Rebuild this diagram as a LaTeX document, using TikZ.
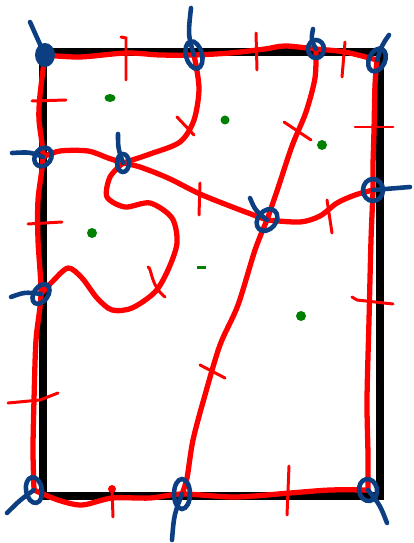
\documentclass[tikz,border=0pt]{standalone}
\usepackage{tikz}
\definecolor{KnotBlue}{RGB}{12,62,130}
\definecolor{FaceGreen}{RGB}{0,128,0}
\definecolor{EdgeRed}{RGB}{255,0,0}
\tikzset{
  border/.style={draw=black, line width=4pt},
  edge/.style={draw=EdgeRed, line width=3pt, line cap=round, line join=round},
  tickmark/.style={draw=EdgeRed, line width=1.7pt, line cap=round},
  knot/.style={draw=KnotBlue, line width=2.6pt, line cap=round},
  face/.style={fill=FaceGreen}
}
\begin{document}
\begin{tikzpicture}[x=0.02cm, y=-0.02cm]
  \useasboundingbox (0,0) rectangle (413,543);
  \draw[border] (43,52) rectangle (380,496);
  % vertices
  \coordinate (v1) at (45,55);
  \coordinate (v2) at (194,55);
  \coordinate (v3) at (316,49);
  \coordinate (v4) at (377,60);
  \coordinate (v5) at (43,157);
  \coordinate (v6) at (123,163);
  \coordinate (v7) at (373,190);
  \coordinate (v8) at (267,220);
  \coordinate (v9) at (41,294);
  \coordinate (v10) at (34,490);
  \coordinate (v11) at (182,494);
  \coordinate (v12) at (368,490);
  % outer edges
  \draw[edge] plot[smooth] coordinates {(v1) (80,57) (126,53) (160,55) (v2) (230,53) (265,49) (285,46) (v3) (345,52) (v4)};
  \draw[edge] plot[smooth] coordinates {(v4) (375,85) (374,130) (373,165) (v7) (371,240) (369,320) (367,400) (368,455) (v12)};
  \draw[edge] plot[smooth] coordinates {(v12) (330,490) (290,493) (235,497) (v11) (150,498) (112,498) (82,505) (58,500) (v10)};
  \draw[edge] plot[smooth] coordinates {(v10) (33,450) (34,400) (36,340) (v9) (38,240) (38,200) (v5) (39,120) (40,95) (v1)};
  % inner edges
  \draw[edge] plot[smooth] coordinates {(v5) (60,151) (88,151) (108,158) (v6)};
  \draw[edge] plot[smooth] coordinates {(v6) (150,154) (180,142) (194,120) (199,88) (v2)};
  \draw[edge] plot[smooth] coordinates {(v6) (140,167) (168,178) (200,194) (235,208) (v8)};
  \draw[edge] plot[smooth] coordinates {(v6) (110,177) (107,197) (125,207) (150,203) (172,218) (177,243) (168,270) (155,292) (132,308) (112,310) (97,298) (82,278) (68,268) (52,282) (v9)};
  \draw[edge] plot[smooth] coordinates {(v8) (278,188) (292,146) (306,112) (315,78) (v3)};
  \draw[edge] plot[smooth] coordinates {(v8) (255,250) (238,305) (220,345) (205,395) (193,440) (187,478) (v11)};
  \draw[edge] plot[smooth] coordinates {(v8) (300,222) (320,216) (337,203) (355,195) (v7)};
  % ticks
  \draw[tickmark] (121,37) -- (126,38) -- (126,80);
  \draw[tickmark] (256,33) -- (257,70);
  \draw[tickmark] (345,42) -- (342,77);
  \draw[tickmark] (32,101) -- (66,100);
  \draw[tickmark] (177,117) -- (194,135);
  \draw[tickmark] (284,122) -- (311,140);
  \draw[tickmark] (355,127) -- (393,127);
  \draw[tickmark] (28,224) -- (62,222);
  \draw[tickmark] (200,183) -- (199,215);
  \draw[tickmark] (148,267) .. controls (152,268) and (150,285) .. (165,297);
  \draw[tickmark] (327,200) -- (332,233);
  \draw[tickmark] (352,297) -- (357,300) -- (393,304);
  \draw[tickmark] (8,403) -- (40,400) -- (58,393);
  \draw[tickmark] (200,365) -- (225,378);
  \draw[tickmark] (289,466) -- (287,515);
  \draw[tickmark] (112,489) -- (113,517);
  \fill[EdgeRed] (112,489) circle [radius=4];
  % faces
  \fill[face] (110,98) ellipse [x radius=5.5, y radius=4];
  \fill[face] (225,120) circle [radius=4.5];
  \fill[face] (322,145) circle [radius=5];
  \fill[face] (92,233) circle [radius=5];
  \fill[face] (197,266) rectangle (206,269.5);
  \fill[face] (301,316) circle [radius=5];
  % knots
  \fill[KnotBlue] (v1) ellipse [x radius=10, y radius=12];
  \draw[knot] (v1) .. controls (38,40) .. (30,22);
  \foreach \v/\rx/\ry/\r in {v2/8/14/15, v3/8/9/0, v4/8/12/-25, v5/8/10/-35,
      v6/6/9/0, v7/10/11/0, v8/9/12/-40, v9/7/11/-35, v10/8/13/10,
      v11/8/15/0, v12/9/11/10}
    \draw[knot, rotate around={\r:(\v)}] (\v) ellipse [x radius=\rx, y radius=\ry];
  \draw[knot] (v2) .. controls (188,35) .. (191,8);
  \draw[knot] (v3) .. controls (311,40) .. (313,29);
  \draw[knot] (v4) .. controls (382,45) .. (389,35);
  \draw[knot] (v5) .. controls (30,152) .. (12,153);
  \draw[knot] (v6) .. controls (118,148) .. (118,134);
  \draw[knot] (v7) .. controls (392,189) .. (410,187);
  \draw[knot] (v8) .. controls (255,210) .. (250,198);
  \draw[knot] (v9) .. controls (25,292) .. (11,297);
  \draw[knot] (v10) .. controls (20,500) .. (7,513);
  \draw[knot] (v11) .. controls (174,515) .. (172,540);
  \draw[knot] (v12) .. controls (380,505) .. (387,523);
\end{tikzpicture}
\end{document}
